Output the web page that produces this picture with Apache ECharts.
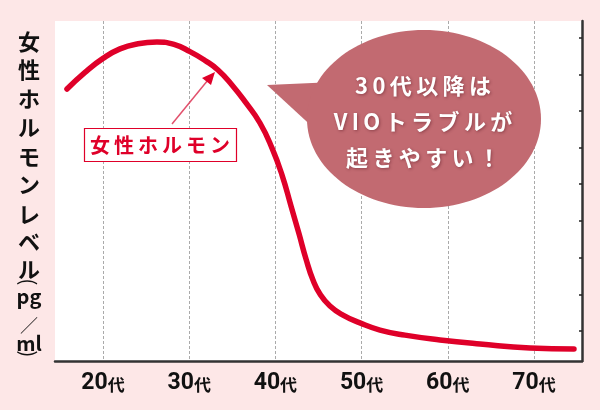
<!DOCTYPE html>
<html>
<head>
<meta charset="utf-8">
<script src="https://cdn.jsdelivr.net/npm/echarts@6/dist/echarts.min.js"></script>
<style>
html,body{margin:0;padding:0;background:#fde7e7;}
#c{width:600px;height:410px;}
</style>
</head>
<body>
<div id="c"></div>
<script>
// ---- data ----
var ageTicks = [20, 30, 40, 50, 60, 70];
var ageSuffix = '代';
var ages =   [15.82, 17.91, 20.0, 21.97, 24.06, 26.26, 28.24, 30.09, 31.83, 33.34, 34.96, 36.59, 38.21, 39.61, 40.77, 41.81, 42.74, 43.55, 44.36, 45.17, 46.33, 47.84, 49.81, 52.13, 55.03, 59.09, 63.74, 69.54, 74.64];
var levels = [80.0, 84.9, 89.0, 91.8, 93.3, 93.8, 93.1, 91.0, 88.4, 85.6, 81.2, 75.9, 70.0, 62.6, 54.7, 45.6, 37.4, 30.0, 23.8, 19.7, 16.2, 13.5, 11.2, 9.1, 7.6, 6.2, 5.0, 3.8, 3.5];
var levelTicks = [8.8, 19.6, 30.4, 41.2, 52.0, 62.7, 73.5, 84.3, 95.1];
var seriesName = '女性ホルモン';
var yTitleChars = ['女','性','ホ','ル','モ','ン','レ','ベ','ル'];
var yTitleUnit = ['pg', '／', 'ml'];
var bubbleLines = ['30代以降は', 'VIOトラブルが', '起きやすい！'];

var FONT = '"Noto Sans CJK JP", "Noto Sans", sans-serif';
var RED = '#df0029';
var BUBBLE = '#c26a71';

var chart = echarts.init(document.getElementById('c'), null, {renderer: 'canvas'});

var graphics = [];
// y title (vertical writing)
var yPos = [42, 70, 99, 128, 157, 185, 215, 242, 270];
yTitleChars.forEach(function (t, i) {
  graphics.push({
    type: 'text', x: 29, y: yPos[i],
    style: {text: t, fill: '#111', font: 'bold 22px ' + FONT, align: 'center', verticalAlign: 'middle'}
  });
});
var uPos = [296, 325, 343];
yTitleUnit.forEach(function (t, i) {
  graphics.push({
    type: 'text', x: 29, y: uPos[i],
    style: {text: t, fill: '#111', font: (t === '／' ? 'normal 18px ' : 'bold 20px ') + FONT, align: 'center', verticalAlign: 'middle'}
  });
});
// vertical-form parentheses
graphics.push({type: 'text', x: 29, y: 282, rotation: -Math.PI / 2,
  style: {text: '(', fill: '#111', font: 'normal 20px ' + FONT, align: 'center', verticalAlign: 'middle'}});
graphics.push({type: 'text', x: 29, y: 354, rotation: -Math.PI / 2,
  style: {text: ')', fill: '#111', font: 'normal 20px ' + FONT, align: 'center', verticalAlign: 'middle'}});

// speech bubble
graphics.push({
  type: 'polygon', z: 10,
  shape: {points: [[267, 85], [335, 82], [318, 132]]},
  style: {fill: BUBBLE}
});
graphics.push({
  type: 'ellipse', z: 10,
  shape: {cx: 424, cy: 119, rx: 117, ry: 89},
  style: {fill: BUBBLE}
});
var bY = [86, 122, 158];
bubbleLines.forEach(function (t, i) {
  graphics.push({
    type: 'text', z: 11, x: 423, y: bY[i],
    style: {text: t.split('').join('\u2009'), fill: '#fff', font: 'bold 22px ' + FONT, align: 'center', verticalAlign: 'middle',
            textShadowColor: 'rgba(80,20,30,0.45)', textShadowBlur: 3, textShadowOffsetX: 1, textShadowOffsetY: 1}
  });
});
// legend box + arrow
graphics.push({
  type: 'rect', z: 10,
  shape: {x: 84.5, y: 128.5, width: 152, height: 33},
  style: {fill: '#fff', stroke: RED, lineWidth: 1.2}
});
graphics.push({
  type: 'text', z: 11, x: 160, y: 145,
  style: {text: seriesName.split('').join('\u2009'), fill: RED, font: 'bold 20px ' + FONT, align: 'center', verticalAlign: 'middle'}
});
graphics.push({
  type: 'line', z: 10,
  shape: {x1: 172, y1: 124, x2: 208, y2: 80},
  style: {stroke: '#e2506c', lineWidth: 1.5}
});
graphics.push({
  type: 'polygon', z: 10,
  shape: {points: [[215, 72], [202, 78], [211, 85]]},
  style: {fill: RED}
});

function ageLabel(v) { return '{n|' + v + '}{s|' + ageSuffix + '}'; }

chart.setOption({
  backgroundColor: '#fde7e7',
  animation: false,
  grid: {left: 55, right: 18, top: 21, bottom: 49, show: true, backgroundColor: '#fff', borderWidth: 0},
  xAxis: {
    type: 'value', min: 14.43, max: 75.57,
    axisLine: {show: true, onZero: false, lineStyle: {color: '#333', width: 2.5}},
    axisTick: {show: false, customValues: ageTicks},
    splitLine: {show: true, lineStyle: {color: '#aaa', type: [3, 2], width: 1}},
    axisLabel: {
      customValues: ageTicks, margin: 11,
      formatter: function (v) { return ageLabel(v); },
      rich: {
        n: {fontFamily: 'Roboto, ' + FONT, fontWeight: 'bold', fontSize: 23, color: '#111'},
        s: {fontFamily: FONT, fontWeight: 'bold', fontSize: 17, color: '#111', padding: [3, 0, 0, 0]}
      }
    }
  },
  yAxis: {
    type: 'value', position: 'right', min: 0, max: 100,
    axisLine: {show: true, lineStyle: {color: '#333', width: 2.5}},
    axisTick: {show: true, inside: true, length: 3, customValues: levelTicks, lineStyle: {color: '#222', width: 1.5}},
    axisLabel: {show: false},
    splitLine: {show: false}
  },
  series: [{
    name: seriesName, type: 'line',
    data: ages.map(function (a, i) { return [a, levels[i]]; }),
    smooth: 0.5, showSymbol: false,
    lineStyle: {color: RED, width: 5.5, cap: 'round', join: 'round'},
    z: 5
  }],
  graphic: graphics
});
</script>
</body>
</html>
